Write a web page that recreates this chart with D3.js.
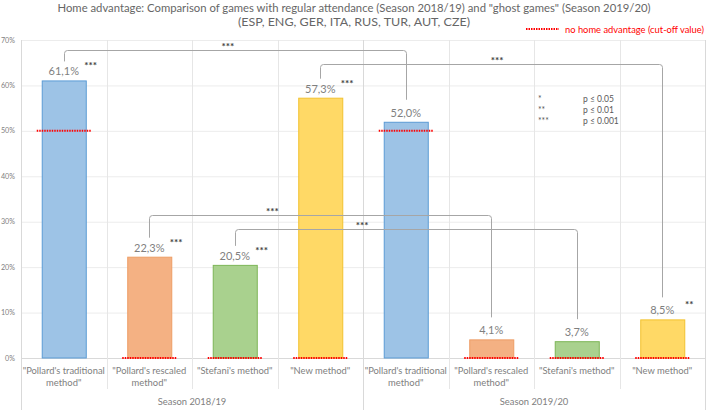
<!DOCTYPE html>
<html><head><meta charset="utf-8">
<script src="https://cdn.jsdelivr.net/npm/d3@7"></script>
<style>body{margin:0;background:#fff}svg{display:block;font-family:Lato,"Open Sans",sans-serif}</style>
</head><body><svg id="c" width="708" height="410"></svg>
<script>
const categories = [
  ["\"Pollard's traditional","method\""],
  ["\"Pollard's rescaled","method\""],
  ["\"Stefani's method\""],
  ["\"New method\""],
  ["\"Pollard's traditional","method\""],
  ["\"Pollard's rescaled","method\""],
  ["\"Stefani's method\""],
  ["\"New method\""]
];
const seasons = ["Season 2018/19", "Season 2019/20"];
const values = [61.1, 22.3, 20.5, 57.3, 52.0, 4.1, 3.7, 8.5];
const valueLabels = ["61,1%","22,3%","20,5%","57,3%","52,0%","4,1%","3,7%","8,5%"];
const barStars = ["***","***","***","***","","","","**"];
const cutoffs = [50, 0, 0, 0, 50, 0, 0, 0];
const methodIdx = [0,1,2,3,0,1,2,3];
const yTicks = [0,10,20,30,40,50,60,70];
// brackets: from bar, to bar, top level (%), stars, stars position (category units)
const bracketFrom = [0, 3, 1, 2];
const bracketTo = [4, 7, 5, 6];
const bracketTop = [67.8, 64.7, 31.5, 28.4];
const bracketStars = ["***","***","***","***"];
const bracketStarPos = [2.42, 5.57, 2.94, 3.99];
const sigSymbols = ["*","**","***"];
const sigText = ["p ≤ 0.05","p ≤ 0.01","p ≤ 0.001"];

const fills = ["#9DC3E6","#F4B183","#A9D18E","#FFD966"];
const strokes = ["#5B9BD5","#ED9D66","#7DB557","#F2C230"];

const svg = d3.select("#c");
const L = 21, R = 705, T = 40, B = 358;
const x = d3.scaleBand().domain(d3.range(8)).range([L, R]).paddingInner(0.485).paddingOuter(0.2425);
const y = d3.scaleLinear().domain([0, 70]).range([B, T]);
const step = (R - L) / 8;

// title
const title = svg.append("g").attr("fill","#666666").attr("font-size",11.6).attr("text-anchor","middle");
title.append("text").attr("x",354).attr("y",12).attr("textLength",593).attr("lengthAdjust","spacingAndGlyphs")
  .text("Home advantage: Comparison of games with regular attendance (Season 2018/19) and \"ghost games\" (Season 2019/20)");
title.append("text").attr("x",354).attr("y",26).attr("textLength",232).attr("lengthAdjust","spacingAndGlyphs")
  .text("(ESP, ENG, GER, ITA, RUS, TUR, AUT, CZE)");

// gridlines
svg.append("g").selectAll("line").data(yTicks).join("line")
  .attr("x1",L).attr("x2",R).attr("y1",d=>y(d)+0.5).attr("y2",d=>y(d)+0.5)
  .attr("stroke",d=>d===0?"#d9d9d9":"#ececec");
svg.append("g").selectAll("line").data(d3.range(9)).join("line")
  .attr("x1",d=>Math.round(L+d*step)+0.5).attr("x2",d=>Math.round(L+d*step)+0.5)
  .attr("y1",T).attr("y2",d=>(d%4===0)?410:389)
  .attr("stroke",d=>(d%4===0)?"#d9d9d9":"#e6e6e6");

// y axis labels
svg.append("g").selectAll("text").data(yTicks).join("text")
  .attr("x",15).attr("y",d=>y(d)+2.5).attr("text-anchor","end")
  .attr("font-size",7.2).attr("fill","#7f7f7f").text(d=>d+"%");

// bars
svg.append("g").selectAll("rect").data(values).join("rect")
  .attr("x",(d,i)=>x(i)+0.5).attr("y",d=>y(d)+0.5)
  .attr("width",x.bandwidth()).attr("height",d=>y(0)-y(d)-0.5)
  .attr("fill",(d,i)=>fills[methodIdx[i]]).attr("stroke",(d,i)=>strokes[methodIdx[i]]).attr("stroke-width",1);

// cutoff dotted lines
svg.append("g").selectAll("line").data(cutoffs).join("line")
  .attr("x1",(d,i)=>x(i)-5).attr("x2",(d,i)=>x(i)+x.bandwidth()+5)
  .attr("y1",d=>y(d)).attr("y2",d=>y(d))
  .attr("stroke","#ff0000").attr("stroke-width",2).attr("stroke-dasharray","1.5,1");

// value labels
const cx = i => x(i) + x.bandwidth()/2;
svg.append("g").selectAll("text").data(values).join("text")
  .attr("x",(d,i)=>cx(i)).attr("y",d=>y(d)-5).attr("text-anchor","middle")
  .attr("font-size",11).attr("fill","#7f7f7f").text((d,i)=>valueLabels[i]);
svg.append("g").selectAll("text").data(values).join("text")
  .attr("x",(d,i)=>cx(i)+27).attr("y",d=>y(d)-11).attr("text-anchor","middle")
  .attr("font-size",10).attr("font-weight","bold").attr("fill","#404040").text((d,i)=>barStars[i]);

// brackets
const bg = svg.append("g");
bracketFrom.forEach((f,k)=>{
  const t = bracketTo[k];
  const yt = Math.round(y(bracketTop[k]))+0.5;
  const x1 = Math.round(cx(f))+0.5, x2 = Math.round(cx(t))+0.5;
  bg.append("path")
    .attr("d",`M${x1},${y(values[f])-19}V${yt+3}Q${x1},${yt} ${x1+3},${yt}H${x2-3}Q${x2},${yt} ${x2},${yt+3}V${y(values[t])-22}`)
    .attr("fill","none").attr("stroke","#a6a6a6").attr("stroke-width",1);
  bg.append("text").attr("x",L+bracketStarPos[k]*step).attr("y",yt-1)
    .attr("text-anchor","middle").attr("font-size",10).attr("font-weight","bold").attr("fill","#404040").text(bracketStars[k]);
});

// x labels
const xl = svg.append("g").attr("fill","#808080").attr("font-size",9.4).attr("text-anchor","middle");
categories.forEach((c,i)=>{
  c.forEach((line,j)=>{
    xl.append("text").attr("x",cx(i)).attr("y",374+j*12).text(line);
  });
});
seasons.forEach((s,i)=>{
  xl.append("text").attr("x",L+(i*4+2)*step).attr("y",405).text(s);
});

// legend for cutoff
svg.append("line").attr("x1",526).attr("x2",559).attr("y1",29).attr("y2",29)
  .attr("stroke","#ff0000").attr("stroke-width",2).attr("stroke-dasharray","1.5,1");
svg.append("text").attr("x",565).attr("y",32.5).attr("font-size",9.6).attr("fill","#ff0000")
  .attr("textLength",139).attr("lengthAdjust","spacingAndGlyphs")
  .text("no home advantage (cut-off value)");

// significance legend
const sl = svg.append("g").attr("font-size",8.5).attr("fill","#595959");
sigSymbols.forEach((s,i)=>{
  sl.append("text").attr("x",538).attr("y",102+i*11).text(s);
  sl.append("text").attr("x",583).attr("y",102+i*11).text(sigText[i]);
});
</script></body></html>
